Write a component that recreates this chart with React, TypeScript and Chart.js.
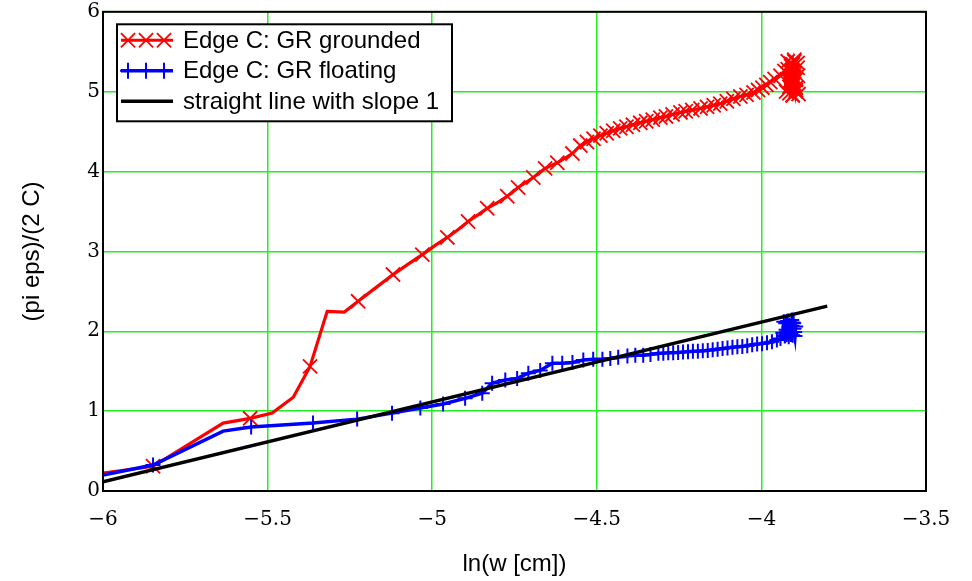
import React, { useEffect, useRef } from 'react';
import { Chart, registerables } from 'chart.js';

Chart.register(...registerables);

// ---- data ----
const seriesNames = ['Edge C: GR grounded', 'Edge C: GR floating', 'straight line with slope 1'];
const xTitle = 'ln(w [cm])';
const yTitle = '(pi eps)/(2 C)';

const xMin = -6;
const xMax = -3.5;
const xStep = 0.5;
const yMin = 0;
const yMax = 6;
const yStep = 1;

const redX = [
  -6.0, -5.848, -5.635, -5.553, -5.486, -5.422, -5.371, -5.319, -5.267, -5.225,
  -5.173, -5.119, -5.073, -5.03, -4.991, -4.954, -4.921, -4.891, -4.86, -4.833,
  -4.802, -4.772, -4.739, -4.717, -4.693, -4.657, -4.62, -4.574,
  -4.55, -4.53, -4.51, -4.489, -4.47, -4.45, -4.429, -4.41, -4.39, -4.368,
  -4.35, -4.33, -4.307, -4.29, -4.27, -4.246, -4.23, -4.21, -4.185, -4.165,
  -4.145, -4.125, -4.105, -4.085, -4.064, -4.045, -4.024, -4.01, -3.997, -3.985,
  -3.973, -3.96, -3.942,
  -3.93, -3.925, -3.92, -3.915, -3.91, -3.905, -3.9, -3.895, -3.89, -3.887, -3.89, -3.895,
  -3.9, -3.905, -3.91, -3.915, -3.92, -3.912, -3.904, -3.896, -3.889, -3.9, -3.908, -3.895,
];
const redY = [
  0.225, 0.31, 0.85, 0.91, 0.975, 1.175, 1.56, 2.25, 2.24, 2.375,
  2.54, 2.71, 2.84, 2.96, 3.075, 3.175, 3.275, 3.375, 3.46, 3.54,
  3.61, 3.69, 3.8, 3.86, 3.925, 4.04, 4.11, 4.225,
  4.325, 4.37, 4.41, 4.45, 4.48, 4.51, 4.54, 4.56, 4.585, 4.61,
  4.63, 4.65, 4.675, 4.69, 4.715, 4.74, 4.755, 4.77, 4.79, 4.81,
  4.83, 4.85, 4.88, 4.91, 4.94, 4.96, 4.99, 5.02, 5.05, 5.085,
  5.12, 5.16, 5.2,
  5.26, 5.0, 5.38, 4.98, 5.35, 4.95, 5.4, 5.02, 5.36, 4.97, 5.3, 5.05,
  5.38, 4.96, 5.32, 5.06, 5.28, 5.12, 5.34, 5.0, 5.2, 5.1, 5.25, 5.15,
];
// marker flags for the first points (later points all carry a marker)
const redMarkEarly = [0, 1, 0, 1, 0, 0, 1, 0, 0, 1, 0, 1, 0, 1, 0, 1, 0, 1, 0, 1, 0, 1, 1, 0, 1, 1, 1, 1];

const blueX = [
  -6.0, -5.848, -5.635, -5.55, -5.362, -5.228, -5.122, -5.036, -4.967, -4.9,
  -4.848, -4.818, -4.778, -4.742, -4.708, -4.672, -4.635, -4.605, -4.574, -4.541,
  -4.511, -4.483, -4.459, -4.435, -4.407, -4.383, -4.359, -4.337,
  -4.313, -4.298, -4.283, -4.268, -4.253, -4.238, -4.223, -4.208, -4.193, -4.178,
  -4.163, -4.148, -4.133, -4.118, -4.103, -4.088, -4.073, -4.058, -4.043, -4.028,
  -4.013, -3.998, -3.983, -3.968, -3.953, -3.942,
  -3.935, -3.932, -3.929, -3.926, -3.923, -3.92, -3.917, -3.914, -3.911, -3.908, -3.905, -3.902,
  -3.899, -3.896, -3.898, -3.904, -3.91, -3.916, -3.922, -3.928, -3.925, -3.913, -3.901, -3.907,
];
const blueY = [
  0.2, 0.325, 0.75, 0.8, 0.85, 0.9, 0.975, 1.04, 1.09, 1.16,
  1.225, 1.35, 1.39, 1.41, 1.475, 1.51, 1.6, 1.6, 1.61, 1.64,
  1.65, 1.65, 1.66, 1.675, 1.69, 1.7, 1.7, 1.71,
  1.725, 1.725, 1.73, 1.73, 1.735, 1.74, 1.745, 1.75, 1.75, 1.755,
  1.76, 1.77, 1.775, 1.785, 1.79, 1.8, 1.805, 1.81, 1.82, 1.83,
  1.84, 1.845, 1.855, 1.87, 1.89, 1.91,
  1.98, 2.12, 1.94, 2.1, 1.96, 2.13, 1.93, 2.08, 1.97, 2.14, 1.95, 2.1,
  1.99, 2.06, 1.94, 2.11, 1.96, 2.05, 2.12, 1.95, 2.02, 1.98, 2.03, 2.07,
];
const blueMarkEarly = [0, 1, 0];

const lineX = [-6.0, -3.8];
const lineY = [0.115, 2.315];

// ---- styles ----
const RED = '#ff0000';
const BLUE = '#0000ff';
const BLACK = '#000000';
const GRID = '#22ee22';
const SANS = '"Liberation Sans", Arial, sans-serif';
const SERIF = '"DejaVu Serif", "Liberation Serif", serif';

const toPts = (xs: number[], ys: number[]) => xs.map((x, i) => ({ x, y: ys[i] }));
const fmtTick = (v: number) => (v < 0 ? '\u2212' + String(Math.abs(v)) : String(v));

function drawMarker(ctx: CanvasRenderingContext2D, style: string, x: number, y: number, r: number) {
  ctx.beginPath();
  if (style === 'crossRot') {
    const d = r * Math.SQRT1_2;
    ctx.moveTo(x - d, y - d); ctx.lineTo(x + d, y + d);
    ctx.moveTo(x - d, y + d); ctx.lineTo(x + d, y - d);
  } else {
    ctx.moveTo(x, y - r); ctx.lineTo(x, y + r);
    ctx.moveTo(x - r, y); ctx.lineTo(x + r, y);
  }
  ctx.stroke();
}

const framePlugin = {
  id: 'frameAndLegend',
  afterDraw(chart: any) {
    const { ctx, chartArea } = chart;
    const { left, right, top, bottom } = chartArea;
    ctx.save();
    ctx.strokeStyle = BLACK;
    ctx.lineWidth = 2;
    ctx.strokeRect(left, top, right - left, bottom - top);

    // legend box
    const bx = left + 14;
    const by = top + 12.5;
    const bw = 335;
    const bh = 97;
    ctx.fillStyle = '#ffffff';
    ctx.fillRect(bx, by, bw, bh);
    ctx.lineWidth = 2;
    ctx.strokeRect(bx, by, bw, bh);

    const rows = [
      { color: RED, marker: 'crossRot', r: 10, mw: 1.8, lw: 3 },
      { color: BLUE, marker: 'cross', r: 8, mw: 2, lw: 3.5 },
      { color: BLACK, marker: '', r: 0, mw: 0, lw: 3.5 },
    ];
    rows.forEach((row, i) => {
      const cy = by + 16 + i * 30.5;
      ctx.strokeStyle = row.color;
      ctx.lineWidth = row.lw;
      ctx.beginPath();
      ctx.moveTo(bx + 4, cy);
      ctx.lineTo(bx + 56, cy);
      ctx.stroke();
      if (row.marker) {
        ctx.lineWidth = row.mw;
        [bx + 11, bx + 29, bx + 47].forEach((mx) => drawMarker(ctx, row.marker, mx, cy, row.r));
      }
      ctx.fillStyle = BLACK;
      ctx.font = `24px ${SANS}`;
      ctx.textAlign = 'left';
      ctx.textBaseline = 'middle';
      ctx.fillText(seriesNames[i], bx + 66, cy + 1);
    });
    ctx.restore();
  },
};

export default function App() {
  const ref = useRef<HTMLCanvasElement | null>(null);

  useEffect(() => {
    if (!ref.current) return;
    const chart = new Chart(ref.current, {
      type: 'line',
      data: {
        datasets: [
          {
            label: seriesNames[2],
            data: toPts(lineX, lineY),
            borderColor: BLACK,
            borderWidth: 3.5,
            pointRadius: 0,
            fill: false,
            tension: 0,
          },
          {
            label: seriesNames[1],
            data: toPts(blueX, blueY),
            borderColor: BLUE,
            backgroundColor: BLUE,
            borderWidth: 3.5,
            pointStyle: 'cross',
            pointBorderColor: BLUE,
            pointBorderWidth: 2,
            pointRadius: (c: any) => ((c.dataIndex < blueMarkEarly.length ? blueMarkEarly[c.dataIndex] : 1) ? 7.5 : 0),
            fill: false,
            tension: 0,
          },
          {
            label: seriesNames[0],
            data: toPts(redX, redY),
            borderColor: RED,
            backgroundColor: RED,
            borderWidth: 3.2,
            pointStyle: 'crossRot',
            pointBorderColor: RED,
            pointBorderWidth: 1.8,
            pointRadius: (c: any) => ((c.dataIndex < redMarkEarly.length ? redMarkEarly[c.dataIndex] : 1) ? 10 : 0),
            fill: false,
            tension: 0,
          },
        ],
      },
      options: {
        responsive: false,
        animation: false,
        events: [],
        devicePixelRatio: 1,
        layout: { padding: { left: 0, right: 46, top: 11.5, bottom: 0 } },
        plugins: { legend: { display: false }, tooltip: { enabled: false } },
        scales: {
          x: {
            type: 'linear',
            min: xMin,
            max: xMax,
            ticks: {
              stepSize: xStep,
              color: BLACK,
              font: { family: SERIF, size: 20 },
              padding: 17,
              callback: (v: any) => fmtTick(Number(v)),
            },
            grid: { color: GRID, lineWidth: 1.5, drawTicks: false },
            border: { display: false },
            title: {
              display: true,
              text: xTitle,
              color: BLACK,
              font: { family: SANS, size: 24 },
              padding: { top: 0, bottom: 2 },
            },
            afterFit: (s: any) => {
              s.height = 90;
              s.paddingLeft = 0; s.paddingRight = 0; s.paddingTop = 0; s.paddingBottom = 0;
            },
          },
          y: {
            type: 'linear',
            min: yMin,
            max: yMax,
            ticks: {
              stepSize: yStep,
              color: BLACK,
              font: { family: SERIF, size: 20 },
              padding: 3,
              callback: (v: any) => fmtTick(Number(v)),
            },
            grid: { color: GRID, lineWidth: 1.5, drawTicks: false },
            border: { display: false },
            title: {
              display: true,
              text: yTitle,
              color: BLACK,
              font: { family: SANS, size: 24 },
              padding: { top: 18, bottom: 0 },
            },
            afterFit: (s: any) => {
              s.width = 103;
              s.paddingLeft = 0; s.paddingRight = 0; s.paddingTop = 0; s.paddingBottom = 0;
            },
          },
        },
      },
      plugins: [framePlugin],
    });
    return () => chart.destroy();
  }, []);

  return (
    <div style={{ position: 'fixed', left: 0, top: 0, width: 972, height: 581, background: '#fff' }}>
      <canvas ref={ref} width={972} height={581} style={{ display: 'block' }} />
    </div>
  );
}
